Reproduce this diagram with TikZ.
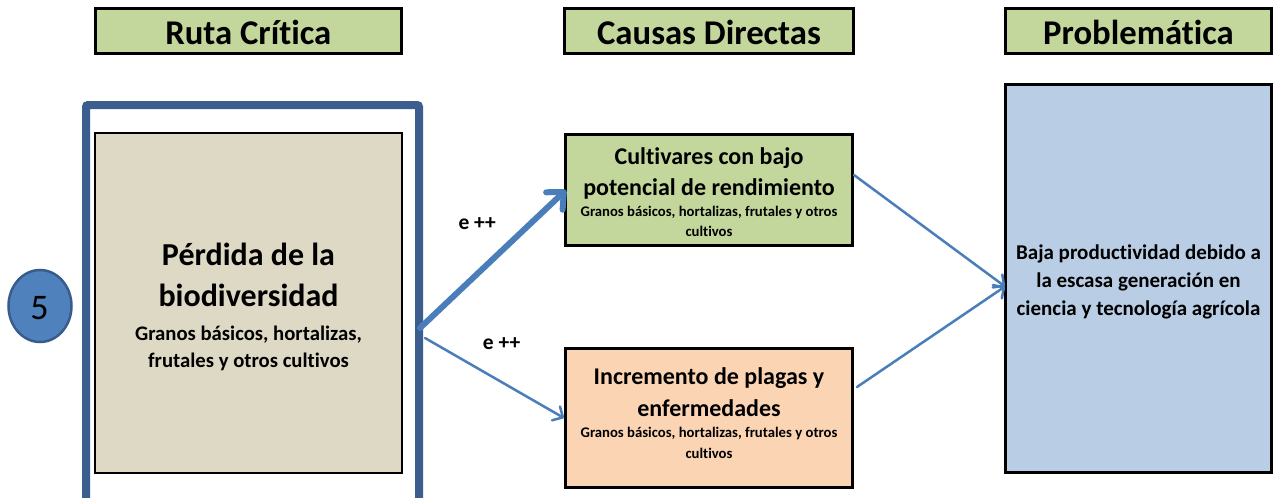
\documentclass[tikz,border=0pt]{standalone}
\usepackage{fontspec}
\setmainfont{Carlito}[Ligatures=CommonOff]
\usetikzlibrary{arrows.meta,calc,shapes.geometric}
\definecolor{hdrgreen}{HTML}{C3D69B}
\definecolor{tanfill}{HTML}{DDD9C4}
\definecolor{orangefill}{HTML}{FBD4B4}
\definecolor{bluefill}{HTML}{B9CDE5}
\definecolor{framec}{HTML}{3B5E8E}
\definecolor{circfill}{HTML}{4F81BD}
\definecolor{circdraw}{HTML}{385D8A}
\definecolor{connc}{HTML}{4A7EBB}
\newcommand\fsz[1]{\fontsize{#1}{#1}\selectfont}
\begin{document}
\begin{tikzpicture}[x=1pt,y=-1pt,
  boxst/.style={draw=black, line width=3pt, inner sep=0pt, anchor=center},
  txt/.style={anchor=base, inner sep=0pt, align=center},
  hdrtxt/.style={txt, font=\bfseries\fsz{34.7}},
  bigtxt/.style={txt, font=\bfseries\fsz{32}},
  midtxt/.style={txt, font=\bfseries\fsz{24}},
  smalltxt/.style={txt, font=\bfseries\fsz{14.7}},
  conn/.style={draw=connc, line cap=round, line join=round},
  thinarrow/.style={conn, line width=2.5pt, -{Straight Barb[length=8pt,width=16pt,line cap=round,line join=round]}},
  thickarrow/.style={conn, line width=6pt, -{Straight Barb[length=13pt,width=24pt,line cap=round,line join=round]}}
]
\useasboundingbox (0,0) rectangle (1280,498);
\clip (0,0) rectangle (1280,498);
\fill[white] (0,0) rectangle (1280,498);

% headers
\node[boxst, fill=hdrgreen, minimum width=306pt, minimum height=45pt] (hRuta) at (248.3,31) {};
\node[hdrtxt] (tRuta) at (248.3,44) {Ruta Crítica};
\node[boxst, fill=hdrgreen, minimum width=289pt, minimum height=45pt] (hCausas) at (709,31) {};
\node[hdrtxt] (tCausas) at (709,44) {Causas Directas};
\node[boxst, fill=hdrgreen, minimum width=266pt, minimum height=45pt] (hProb) at (1138.5,31) {};
\node[hdrtxt] (tProb) at (1138.5,44) {Problemática};

% outer frame
\node[draw=framec, line width=8pt, rounded corners=2pt, inner sep=0pt,
      minimum width=333pt, minimum height=430pt, anchor=north west] (frame) at (82,101) {};

% loss box
\node[boxst, line width=2.5pt, fill=tanfill, minimum width=307pt, minimum height=340pt] (loss) at (248.5,303) {};
\node[bigtxt] (l1) at (248.5,265.7) {Pérdida de la};
\node[bigtxt] (l2) at (248.5,306.7) {biodiversidad};
\node[txt, font=\bfseries\fsz{20.7}] (l3) at (248.5,340) {Granos básicos, hortalizas,};
\node[txt, font=\bfseries\fsz{20.7}] (l4) at (248.5,367.3) {frutales y otros cultivos};

% circle
\node[ellipse, draw=circdraw, line width=2.5pt, fill=circfill, inner sep=0pt,
      minimum width=63pt, minimum height=72pt] (num) at (40,306) {};
\node[txt, font=\fsz{36}] (numt) at (39.5,319.3) {5};

% green box
\node[boxst, fill=hdrgreen, minimum width=287pt, minimum height=111pt] (green) at (709,190) {};
\node[midtxt] (g1) at (709,164) {Cultivares con bajo};
\node[midtxt] (g2) at (709,195) {potencial de rendimiento};
\node[smalltxt] (g3) at (709,216.7) {Granos básicos, hortalizas, frutales y otros};
\node[smalltxt] (g4) at (709,236.7) {cultivos};

% orange box
\node[boxst, fill=orangefill, minimum width=287pt, minimum height=139pt] (orange) at (709,418) {};
\node[midtxt] (o1) at (709,384.3) {Incremento de plagas y};
\node[midtxt] (o2) at (709,416) {enfermedades};
\node[smalltxt] (o3) at (709,437.7) {Granos básicos, hortalizas, frutales y otros};
\node[smalltxt] (o4) at (709,458.3) {cultivos};

% problem box
\node[boxst, fill=bluefill, minimum width=266pt, minimum height=388pt] (prob) at (1138.5,278.5) {};
\node[txt, font=\bfseries\fsz{21}] (p1) at (1138.5,259) {Baja productividad debido a};
\node[txt, font=\bfseries\fsz{21}] (p2) at (1138.5,287.3) {la escasa generación en};
\node[txt, font=\bfseries\fsz{21}] (p3) at (1138.5,315) {ciencia y tecnología agrícola};

% labels
\node[anchor=base west, inner sep=0pt, font=\bfseries\fsz{21.5}] (e1) at (458.3,229.3) {e ++};
\node[anchor=base west, inner sep=0pt, font=\bfseries\fsz{21.5}] (e2) at (482.7,349) {e ++};

% connectors
\coordinate (s1) at ($(frame.north east)+(-3,227)$);
\coordinate (s2) at ($(frame.north east)+(2,237)$);
\coordinate (pin) at ($(prob.west)+(1,8)$);
\draw[thickarrow] (s1) -- ($(green.west)+(2,0)$);
\draw[thinarrow] (s2) -- (orange.west);
\draw[thinarrow] ($(green.east)+(0,-15)$) -- (pin);
\draw[thinarrow] ($(orange.east)+(3,-31)$) -- (pin);
\end{tikzpicture}
\end{document}
